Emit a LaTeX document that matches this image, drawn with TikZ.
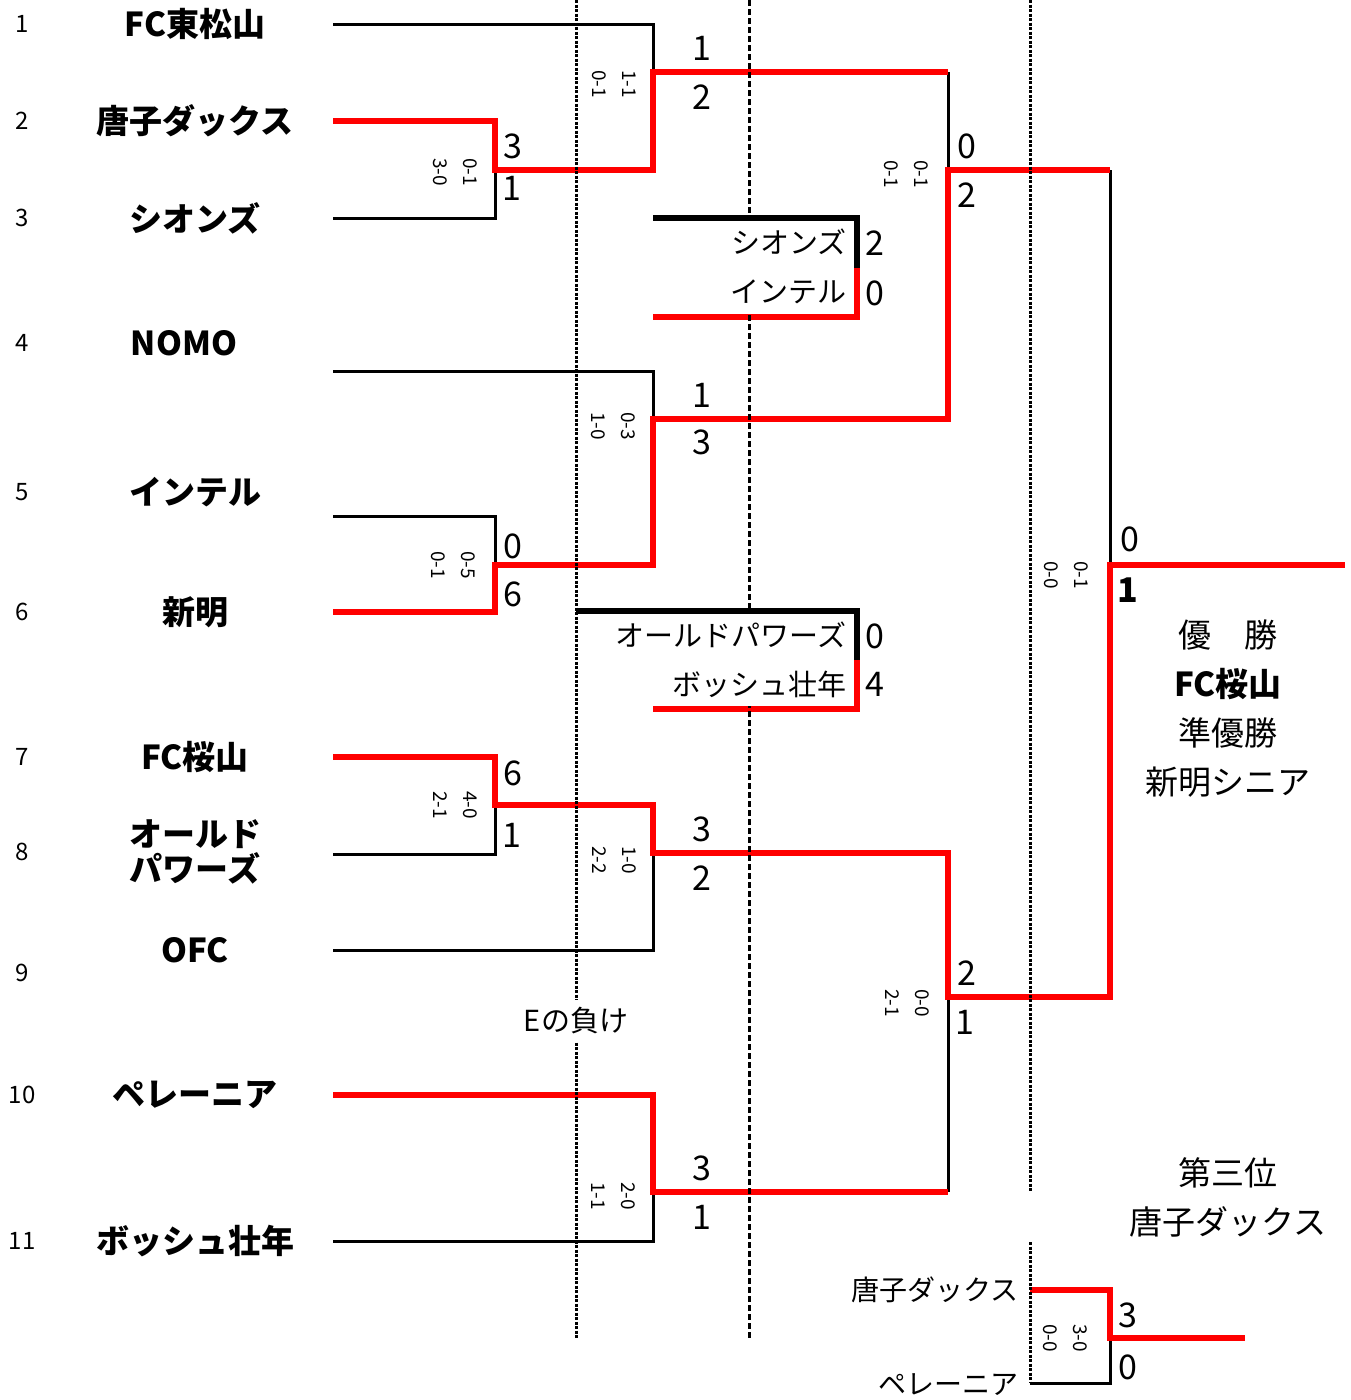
\documentclass[tikz,border=0pt]{standalone}
\usepackage{fontspec}
\setmainfont{Noto Sans CJK JP}
\usepackage{tikz}
\usetikzlibrary{positioning}
\def\XStart{333}
\def\XOne{495}
\def\XTwo{653}
\def\XThree{948}
\def\XFour{1110}
\def\SeedFont{\fontsize{24}{28}\selectfont}
\def\TeamFont{\fontsize{33}{35}\selectfont\bfseries}
\def\ScoreFont{\fontsize{34}{40}\selectfont}
\def\LegFont{\fontsize{19}{30}\selectfont}
\def\BoxFont{\fontsize{29}{34}\selectfont}
\def\PrizeFont{\fontsize{33}{40}\selectfont}

\begin{document}
\begin{tikzpicture}[x=1pt,y=-1pt,
		loser/.style={line width=3pt,line join=miter},
		heavy/.style={line width=6pt,line join=miter},
		winner/.style={red,line width=6pt,line join=miter},
		dotline/.style={line width=3pt,dash pattern=on 3pt off 1.5pt},
		dashline/.style={line width=3pt,dash pattern=on 6pt off 3pt},
		seed/.style={font=\SeedFont},
		team/.style={font=\TeamFont,align=center},
		score/.style={font=\ScoreFont,inner sep=0pt},
		leg/.style={font=\LegFont,rotate=-90,align=center,inner sep=0pt},
		entry/.style={font=\BoxFont,anchor=east},
		prize/.style={font=\PrizeFont}]
	\useasboundingbox (0,0) rectangle (1351,1400);
	% 
	\foreach \n/\x/\y/\name in {1/195/24/FC東松山,2/195/121/唐子ダックス,3/195/218/シオンズ,
		4/184/343/NOMO,5/195/492/インテル,6/195/612/新明,7/195/757/FC桜山,
		8/195/852/{オールド\\パワーズ},9/195/950/OFC,10/195/1095/ペレーニア,11/195/1241/ボッシュ壮年}
		\node[team] (name\n) at (\x,\y) {\name};
	\foreach \n/\y in {1/24,2/121,3/218,4/343,5/492,6/612,7/757,8/852,9/973,10/1095,11/1241}
		\node[seed] (seed\n) at (22,\y) {\n};
	% 
	\foreach \n/\y in {1/24,2/121,3/218,4/371,5/516,6/612,7/757,8/854,9/950,10/1095,11/1241}
		\coordinate (t\n) at (\XStart,\y);
	% 
	\coordinate (m23) at (\XOne,170);
	\coordinate (m56) at (\XOne,565);
	\coordinate (m78) at (\XOne,805);
	\coordinate (q1) at (\XTwo,72);
	\coordinate (q2) at (\XTwo,419);
	\coordinate (q3) at (\XTwo,853);
	\coordinate (q4) at (\XTwo,1192);
	\coordinate (s1) at (\XThree,170);
	\coordinate (s2) at (\XThree,997);
	\coordinate (f) at (\XFour,565);
	\coordinate (champ) at (1345,565);
	% 
	\coordinate (ca1) at (\XTwo,218);
	\coordinate (ca) at (857,268);
	\coordinate (ca2) at (\XTwo,317);
	\coordinate (cb1) at (576,611);
	\coordinate (cb) at (857,660);
	\coordinate (cb2) at (\XTwo,709);
	% 
	\coordinate (tp1) at (1030,1290);
	\coordinate (tp2) at (1030,1383);
	\coordinate (tp) at (\XFour,1338);
	\coordinate (tpe) at (1245,1338);
	% 
	\coordinate (da0) at (576,0);
	\coordinate (da3) at (576,1338);
	\coordinate (db0) at (749,0);
	\coordinate (db1) at (749,1338);
	\coordinate (dc0) at (1030,0);
	\coordinate (dc1) at (1030,1192);
	\coordinate (dc2) at (1030,1242);
	\coordinate (dc3) at (1030,1383);
	% 
	\node[score] (m23a) at (513,146) {3};
	\node[score] (m23b) at (512,188) {1};
	\node[leg] (m23l) at (455,172) {0-1\\3-0};
	\node[score] (q1a) at (702,48) {1};
	\node[score] (q1b) at (702,97) {2};
	\node[leg] (q1l) at (614,84) {1-1\\0-1};
	\node[score] (m56a) at (513,546) {0};
	\node[score] (m56b) at (513,594) {6};
	\node[leg] (m56l) at (453,565) {0-5\\0-1};
	\node[score] (q2a) at (702,395) {1};
	\node[score] (q2b) at (702,442) {3};
	\node[leg] (q2l) at (613,426) {0-3\\1-0};
	\node[score] (m78a) at (513,773) {6};
	\node[score] (m78b) at (512,835) {1};
	\node[leg] (m78l) at (455,805) {4-0\\2-1};
	\node[score] (q3a) at (702,829) {3};
	\node[score] (q3b) at (702,878) {2};
	\node[leg] (q3l) at (614,860) {1-0\\2-2};
	\node[score] (q4a) at (702,1168) {3};
	\node[score] (q4b) at (702,1217) {1};
	\node[leg] (q4l) at (613,1196) {2-0\\1-1};
	\node[score] (s1a) at (967,146) {0};
	\node[score] (s1b) at (967,195) {2};
	\node[leg] (s1l) at (906,174) {0-1\\0-1};
	\node[score] (s2a) at (967,973) {2};
	\node[score] (s2b) at (965,1022) {1};
	\node[leg] (s2l) at (907,1003) {0-0\\2-1};
	\node[score] (fa) at (1130,539) {0};
	\node[score,font=\ScoreFont\bfseries] (fb) at (1128,590) {1};
	\node[leg] (fl) at (1066,575) {0-1\\0-0};
	\node[score] (tpa) at (1128,1315) {3};
	\node[score] (tpb) at (1128,1367) {0};
	\node[leg] (tpl) at (1065,1338) {3-0\\0-0};
	% 
	\node[score] (caas) at (875,243) {2};
	\node[score] (cabs) at (875,293) {0};
	\node[score] (cbas) at (875,636) {0};
	\node[score] (cbbs) at (875,684) {4};
	\node[font=\BoxFont,inner ysep=8pt] (elose) at (576,1021) {Eの負け};
	\node[entry,font=\fontsize{28}{32}\selectfont] (tpn1) at (1022,1290) {唐子ダックス};
	\node[entry,font=\fontsize{28}{32}\selectfont] (tpn2) at (1022,1385) {ペレーニア};
	% 
	\node[prize,font=\PrizeFont\bfseries] (winname) at (1228,684) {FC桜山};
	\node[prize,above=11pt of winname] (wintitle) {優　勝};
	\node[prize,below=11pt of winname] (runtitle) {準優勝};
	\node[prize,below=11pt of runtitle] (runname) {新明シニア};
	\node[prize] (thirdname) at (1228,1222) {唐子ダックス};
	\node[prize,above=11pt of thirdname] (thirdtitle) {第三位};
	% 
	\draw[loser] (t1) -| (q1);
	\draw[loser] (t3) -| (m23);
	\draw[loser] (t4) -| (q2);
	\draw[loser] (t5) -| (m56);
	\draw[loser] (t8) -| (m78);
	\draw[loser] (t9) -| (q3);
	\draw[loser] (t11) -| (q4);
	\draw[loser] (q1 -| s1) -- (s1);
	\draw[loser] (q4 -| s2) -- (s2);
	\draw[loser] (s1 -| f) -- (f);
	\draw[loser] (tp2) -| (tp);
	\draw[heavy] (ca1) -| (ca);
	\draw[heavy] (cb1) -| (cb);
	% 
	\draw[winner] (ca2) -| (ca);
	\draw[winner] (cb2) -| (cb);
	\draw[winner] (t2) -| (m23) -| (q1) -- (q1 -| s1);
	\draw[winner] (t6) -| (m56) -| (q2) -| (s1) -- (s1 -| f);
	\draw[winner] (t7) -| (m78) -| (q3) -| (s2) -| (f) -- (champ);
	\draw[winner] (t10) -| (q4) -- (q4 -| s2);
	\draw[winner] (tp1) -| (tp) -- (tpe);
	% 
	\draw[dotline] (da0) -- (elose.north);
	\draw[dotline] (elose.south) -- (da3);
	\draw[dashline] (db0) -- (db1);
	\draw[dotline] (dc0) -- (dc1);
	\draw[dotline] (dc2) -- (dc3);
	% white text boxes of the two consolation games
	\fill[white] (656,221) rectangle (854,314);
	\fill[white] (580,614) rectangle (854,706);
	\node[entry] (caa) at (850,242) {シオンズ};
	\node[entry] (cab) at (850,292) {インテル};
	\node[entry] (cba) at (850,635) {オールドパワーズ};
	\node[entry] (cbb) at (850,684) {ボッシュ壮年};
\end{tikzpicture}
\end{document}
